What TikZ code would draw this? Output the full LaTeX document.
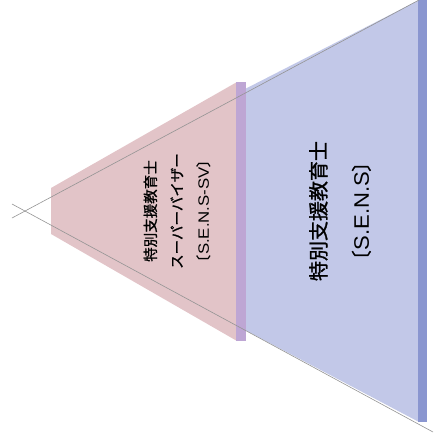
\documentclass[tikz,border=0pt]{standalone}
\usepackage{fontspec}
\setmainfont{Noto Sans CJK JP}[FakeBold=1.2]
\newfontfamily\latinwide{Liberation Sans}[FakeStretch=1.05]
\newfontfamily\latinwider{Liberation Sans}[FakeStretch=1.12]
\definecolor{senspink}{RGB}{226,196,200}
\definecolor{sensblue}{RGB}{194,200,232}
\definecolor{sensbar}{RGB}{138,150,208}
\definecolor{svbar}{RGB}{190,166,212}
\tikzset{
  guide/.style={draw=black!42, line width=0.6pt},
  biglabel/.style={rotate=90, align=center, font=\fontsize{20}{43}\selectfont},
  smalllabel/.style={rotate=90, align=center, font=\fontsize{14.5}{26.5}\selectfont}
}
\begin{document}
\begin{tikzpicture}[x=1pt,y=-1pt]
    \useasboundingbox (0,0) rectangle (434,434);
    % blue level
    \fill[sensblue] (245,89) -- (419,0) -- (419,422) -- (245,330) -- cycle;
    \fill[sensbar] (418,0) rectangle (427,422);
    % pink level
    \fill[senspink] (51,188) -- (237,82) -- (237,341) -- (51,234) -- cycle;
    \fill[svbar] (236,82) rectangle (246,341);
    % guide lines
    \coordinate (upstart) at (12,218);
    \coordinate (upend) at (419,0);
    \coordinate (lowstart) at (12,204);
    \coordinate (lowend) at (433,432);
    \draw[guide] (upstart) -- (upend);
    \draw[guide] (lowstart) -- (lowend);
    \node[biglabel] (sens) at (340,211)
      {特別支援教育士\\〔{\latinwide\fontsize{21}{21}\selectfont S.E.N.S}〕};
    \node[smalllabel] (senssv) at (177,211)
      {特別支援教育士\\スーパーバイザー\\〔{\latinwider\fontsize{15}{15}\selectfont S.E.N.S-SV}〕};
  \end{tikzpicture}
\end{document}
